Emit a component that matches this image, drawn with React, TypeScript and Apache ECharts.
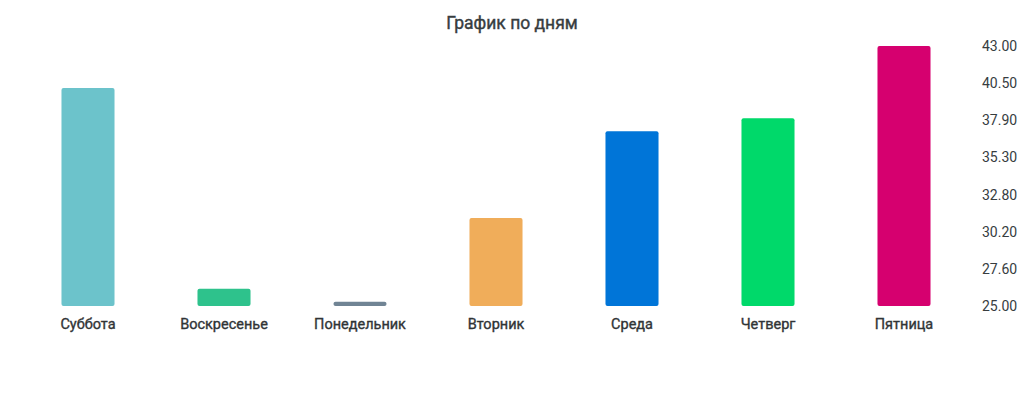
import React, { useEffect, useRef } from "react";
import * as echarts from "echarts";

const categories = ["Суббота", "Воскресенье", "Понедельник", "Вторник", "Среда", "Четверг", "Пятница"];
const values = [40.1, 26.2, 25.3, 31.1, 37.1, 38.0, 43.0];
const barColors = ["#6cc3cb", "#2ec28c", "#708494", "#f0ad5a", "#0075d8", "#00d96a", "#d6006f"];
const tickLabels = ["25.00", "27.60", "30.20", "32.80", "35.30", "37.90", "40.50", "43.00"];
const yMin = 25;
const yMax = 43;

export default function App() {
  const ref = useRef<HTMLDivElement>(null);
  useEffect(() => {
    if (!ref.current) return;
    const chart = echarts.init(ref.current, null, { renderer: "svg" });
    const step = (yMax - yMin) / (tickLabels.length - 1);
    const tickValues = tickLabels.map((_, i) => yMin + i * step);
    chart.setOption({
      animation: false,
      title: {
        text: "График по дням",
        left: "center",
        top: 9,
        textStyle: {
          fontFamily: "Roboto",
          fontSize: 17.5,
          fontWeight: "normal",
          color: "#373d3f",
          textBorderColor: "#373d3f",
          textBorderWidth: 0.4,
        },
      },
      grid: { left: 20, right: 52, top: 46, bottom: 94 },
      xAxis: {
        type: "category",
        data: categories,
        axisLine: { show: false },
        axisTick: { show: false },
        axisLabel: {
          fontFamily: "Roboto",
          fontSize: 14.5,
          fontWeight: "normal",
          color: "#303436",
          textBorderColor: "#303436",
          textBorderWidth: 0.35,
          margin: 11,
        },
      },
      yAxis: {
        type: "value",
        position: "right",
        min: yMin,
        max: yMax,
        splitLine: { show: false },
        axisLine: { show: false },
        axisTick: { show: false, customValues: tickValues },
        axisLabel: {
          customValues: tickValues,
          fontFamily: "Roboto",
          fontSize: 14,
          color: "#373d3f",
          margin: 10,
          formatter: (v: number) => {
            const idx = tickValues.findIndex((t) => Math.abs(t - v) < 1e-6);
            return idx >= 0 ? tickLabels[idx] : "";
          },
        },
      },
      series: [
        {
          type: "bar",
          barWidth: "39%",
          data: values.map((v, i) => ({ value: v, itemStyle: { color: barColors[i], borderRadius: 2 } })),
        },
      ],
    });
    return () => chart.dispose();
  }, []);
  return <div ref={ref} style={{ width: 1024, height: 400, position: "absolute", left: 0, top: 0 }} />;
}
